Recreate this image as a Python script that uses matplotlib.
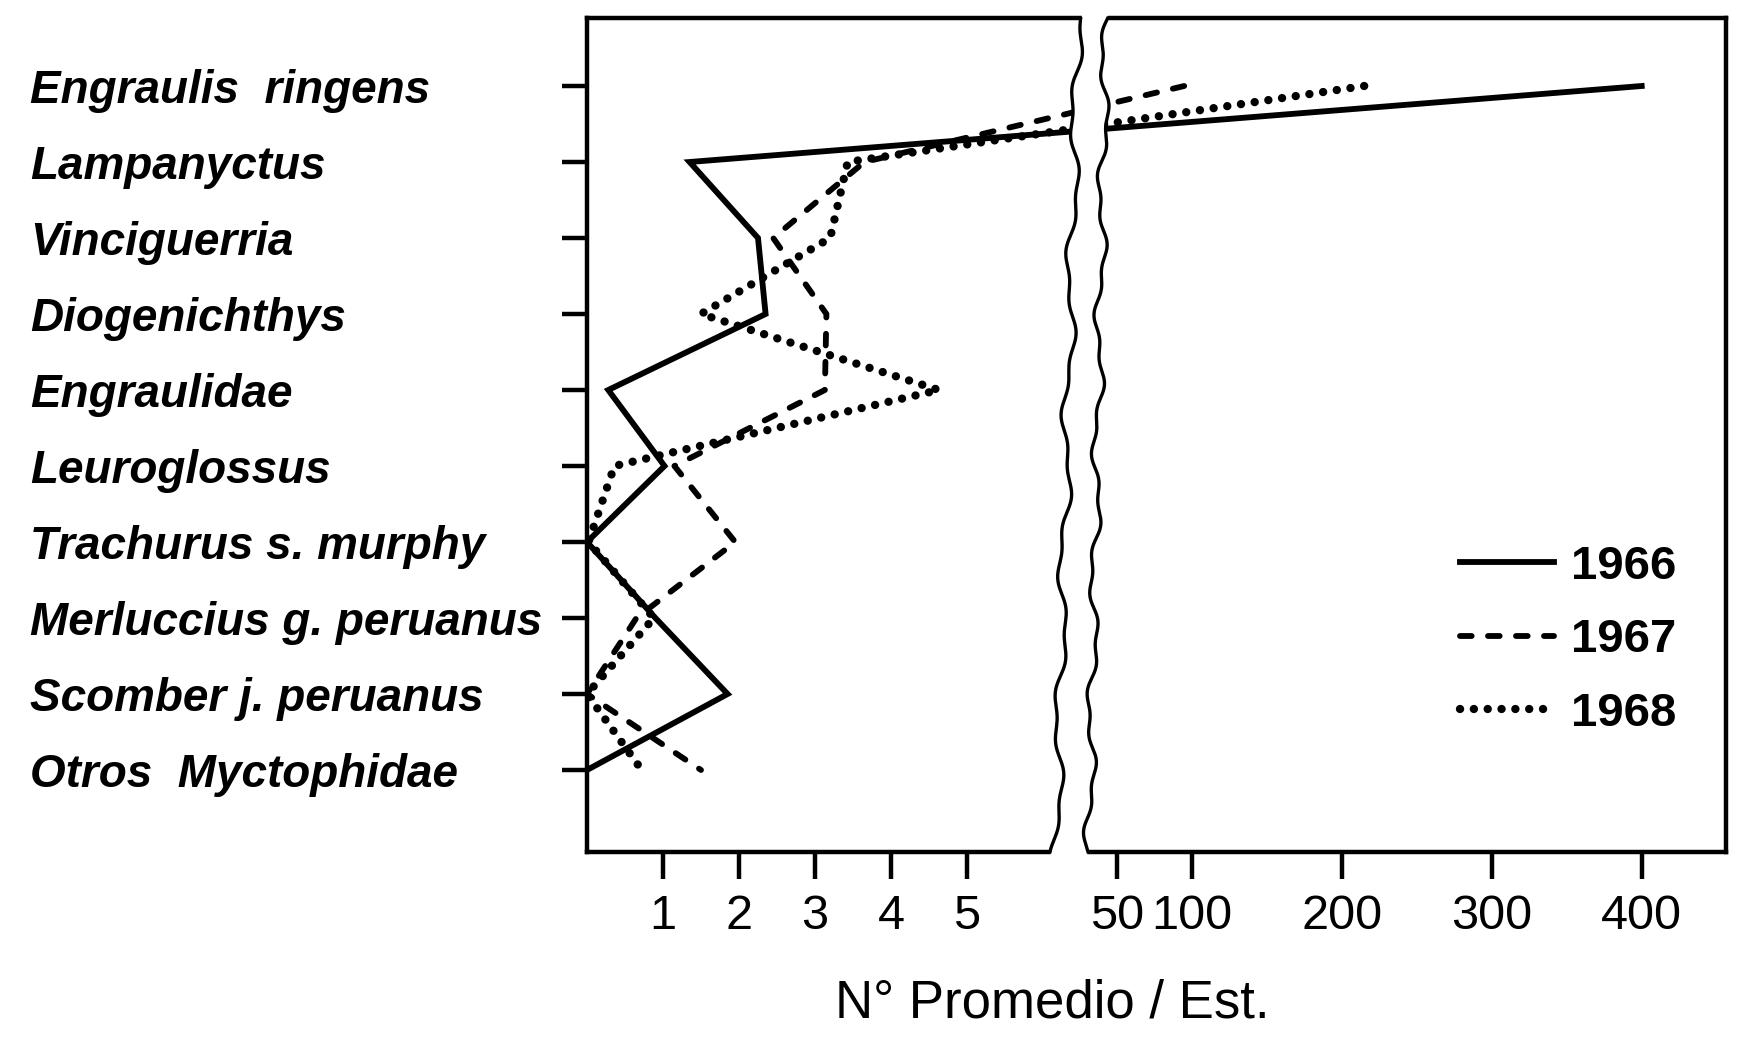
import numpy as np
import matplotlib
matplotlib.use('Agg')
import matplotlib.pyplot as plt
from matplotlib.patches import Polygon
from matplotlib.ticker import NullLocator
from matplotlib.font_manager import FontProperties

# ---------------- data ----------------
species = ["Engraulis  ringens", "Lampanyctus", "Vinciguerria", "Diogenichthys",
           "Engraulidae", "Leuroglossus", "Trachurus s. murphy",
           "Merluccius g. peruanus", "Scomber j. peruanus", "Otros  Myctophidae"]
years = ["1966", "1967", "1968"]
v1966 = [400, 1.35, 2.25, 2.35, 0.28, 1.02, 0.0, 0.90, 1.85, 0.0]
v1967 = [95, 3.65, 2.45, 3.15, 3.13, 1.15, 1.95, 0.65, 0.0, 1.50]
v1968 = [215, 3.43, 3.20, 1.50, 4.63, 0.36, 0.02, 0.88, 0.0, 0.72]
xticks = [1, 2, 3, 4, 5, 50, 100, 200, 300, 400]
xlabel = "N° Promedio / Est."

# ---------------- layout ----------------
W, H, DPI = 1743, 1037, 100
L, R, T, B = 587, 1726, 18, 852
fig = plt.figure(figsize=(W / DPI, H / DPI), dpi=DPI)
ax = fig.add_axes([L / W, 1 - B / H, (R - L) / W, (B - T) / H])

# broken x-axis: two linear pieces (px per unit) joined continuously
LEFT_PX, RIGHT_PX, RIGHT_OFF = 76.0, 1.5, 454.7
c = RIGHT_OFF / (LEFT_PX - RIGHT_PX)
KV = np.array([-1e4, 0.0, c, 1e5])
KU = np.array([-1e4 * LEFT_PX, 0.0, c * LEFT_PX, RIGHT_OFF + 1e5 * RIGHT_PX])


def fwd(v):
    return np.interp(v, KV, KU)


def inv(u):
    return np.interp(u, KU, KV)


ax.set_xscale('function', functions=(fwd, inv))
ax.set_xlim(0, (R - L - RIGHT_OFF) / RIGHT_PX)
ax.set_ylim((B - 86) / 76.0, (T - 86) / 76.0)

ypos = np.arange(len(species))
ax.plot(v1966, ypos, color='black', lw=4.2, solid_joinstyle='miter', label=years[0])
ax.plot(v1967, ypos, color='black', lw=4.2, linestyle=(0, (2.0, 2.8)),
        dash_capstyle='round', label=years[1])
ax.plot(v1968, ypos, color='black', lw=6.0, linestyle=(0, (0.01, 1.65)),
        dash_capstyle='round', label=years[2])

# ticks
ax.set_xticks(xticks, labels=[str(t) for t in xticks])
ax.xaxis.set_minor_locator(NullLocator())
ax.tick_params(axis='x', direction='out', length=19.5, width=3.2, pad=11,
               labelsize=35)
for lab in ax.get_xticklabels():
    lab.set_fontfamily('Liberation Sans')

ax.set_yticks(ypos, labels=species)
ax.yaxis.set_minor_locator(NullLocator())
ax.tick_params(axis='y', direction='out', length=18, width=3.2, pad=383,
               labelsize=33)
for lab in ax.get_yticklabels():
    lab.set_ha('left')
    lab.set_fontfamily('Liberation Sans')
    lab.set_fontstyle('italic')
    lab.set_fontweight('bold')

for s in ax.spines.values():
    s.set_linewidth(3.2)

# axis break (white band with wavy edges)
yy = np.linspace(T - 8, B + 8, 300)
t = (yy - T) / (B - T)
wl = 4.5 * np.sin(2 * np.pi * yy / 150) + 2.0 * np.sin(2 * np.pi * yy / 55 + 1.3)
wr = 4.0 * np.sin(2 * np.pi * yy / 130 + 2.0) + 2.0 * np.sin(2 * np.pi * yy / 47 + 0.4)
xl = 1078 + (1056 - 1078) * t + wl
xr = 1106 + (1089 - 1106) * t + wr


def to_ax(xf, yf):
    return (np.asarray(xf) - L) / (R - L), (B - np.asarray(yf)) / (B - T)


bx = np.concatenate([xl + 1, xr[::-1] - 1])
by = np.concatenate([yy, yy[::-1]])
axx, axy = to_ax(bx, by)
ax.add_patch(Polygon(np.column_stack([axx, axy]), closed=True, facecolor='white',
                     edgecolor='none', transform=ax.transAxes, clip_on=False, zorder=5))
m = (yy >= T) & (yy <= B)
for xs in (xl, xr):
    px, py = to_ax(xs[m], yy[m])
    ax.plot(px, py, color='black', lw=2.4, transform=ax.transAxes, clip_on=False,
            zorder=6)

# legend
leg = ax.legend(loc='upper left', bbox_to_anchor=(1460 / W, 1 - 545 / H),
                bbox_transform=fig.transFigure, frameon=False, handlelength=2.0,
                handletextpad=0.34, labelspacing=0.62, borderpad=0, borderaxespad=0,
                prop=FontProperties(family='Liberation Sans', weight='bold', size=34))

fig.text(1052 / W, 1 - 1004 / H, xlabel, ha='center', va='center', fontsize=38,
         family='Liberation Sans')

fig.savefig('out.png', dpi=DPI)
